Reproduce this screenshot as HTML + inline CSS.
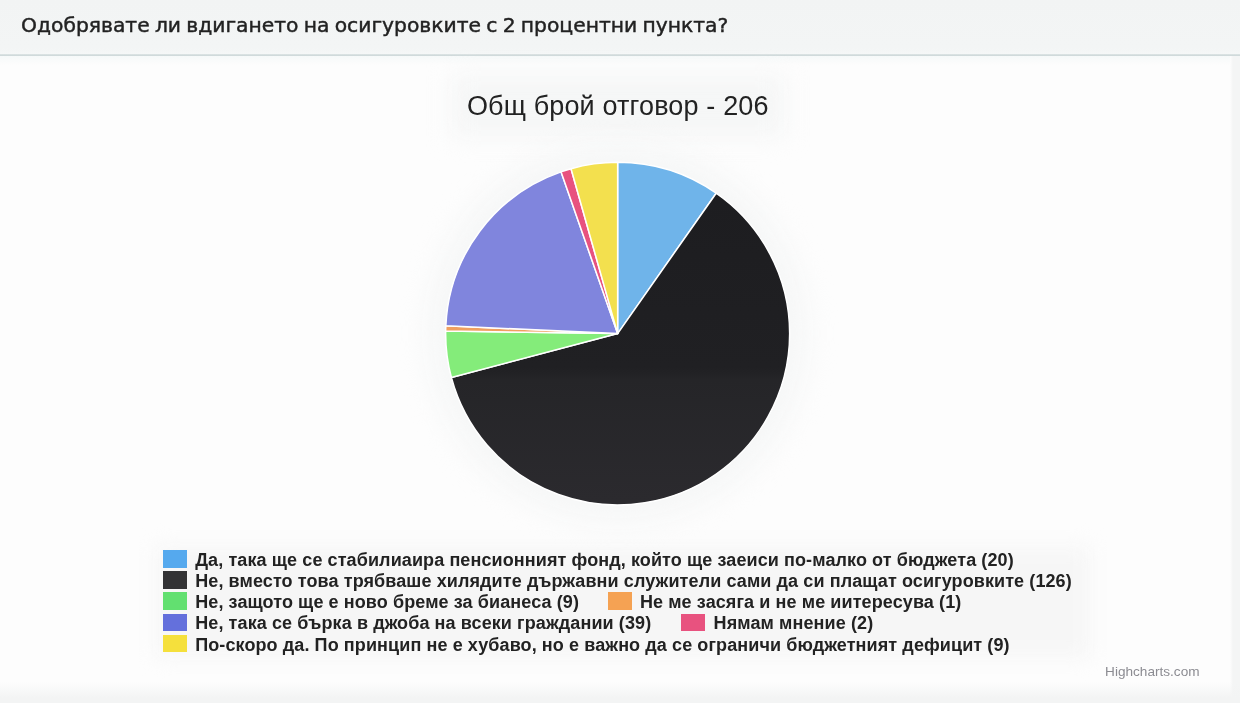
<!DOCTYPE html>
<html lang="bg"><head><meta charset="utf-8"><title>Анкета</title>
<style>
html,body{margin:0;padding:0;}
body{width:1240px;height:703px;overflow:hidden;background:#fdfdfd;position:relative;font-family:"Liberation Sans",sans-serif;}
.hdr{position:absolute;left:0;top:0;width:1240px;height:66px;background:linear-gradient(to bottom,#f2f4f4 0,#f3f5f5 48px,#f5f7f7 54.2px,#d0dadb 54.6px,#d0dadb 55.6px,#f6f9f9 56.1px,#fdfdfd 65px);}
.rband{position:absolute;left:1230px;top:56px;width:10px;height:647px;background:linear-gradient(to right,#fdfdfd,#f4f5f5 3px);}
.bband{position:absolute;left:0;top:682px;width:1240px;height:21px;background:linear-gradient(to bottom,rgba(243,244,244,0),#f3f4f4 16px);}
.halo2{position:absolute;left:452px;top:76px;width:332px;height:60px;background:#f5f6f6;filter:blur(12px);}
.halo3{position:absolute;left:427px;top:143px;width:381px;height:381px;border-radius:50%;background:#f6f7f7;filter:blur(13px);}
.halo{position:absolute;left:156px;top:547px;width:934px;height:110px;background:#f6f6f6;filter:blur(10px);}
.hdr span{position:absolute;left:21px;top:9.9px;font-family:"DejaVu Sans","Liberation Sans",sans-serif;font-size:20.3px;word-spacing:-1.2px;color:#222;white-space:nowrap;line-height:30px;-webkit-text-stroke:0.45px #222;}
.title{position:absolute;left:466.9px;top:89px;font-size:27px;letter-spacing:0.15px;line-height:34px;color:#222;white-space:nowrap;}
svg.pie{position:absolute;left:0;top:0;}
svg.pie path{stroke:#fff;stroke-width:1.5;stroke-linejoin:round;}
.lg{position:absolute;font-weight:bold;font-size:18px;letter-spacing:0.1px;line-height:21px;color:#222;white-space:nowrap;}
.sw{position:absolute;width:24px;height:17.8px;}
.credit{position:absolute;left:1105.1px;top:663.6px;font-size:13.6px;line-height:16px;color:#8c8c92;white-space:nowrap;}
</style></head><body>
<div class="hdr"><span>Одобрявате ли вдигането на осигуровките с 2 процентни пункта?</span></div>
<div class="rband"></div><div class="bband"></div><div class="halo"></div><div class="halo2"></div><div class="halo3"></div>
<div class="title">Общ брой отговор - 206</div>
<svg class="pie" width="1240" height="703" viewBox="0 0 1240 703">
<defs><linearGradient id="dk" gradientUnits="userSpaceOnUse" x1="0" y1="200" x2="0" y2="500"><stop offset="0" stop-color="#1d1d20"/><stop offset="0.56" stop-color="#202023"/><stop offset="0.6" stop-color="#252528"/><stop offset="1" stop-color="#2b2a2e"/></linearGradient></defs>
<path d="M617.65 333.6 L617.65 162.30 A172.0 171.3 0 0 1 716.19 193.20 Z" fill="#6fb4ea"/>
<path d="M617.65 333.6 L716.19 193.20 A172.0 171.3 0 1 1 451.40 377.51 Z" fill="url(#dk)"/>
<path d="M617.65 333.6 L451.40 377.51 A172.0 171.3 0 0 1 445.67 330.99 Z" fill="#84ec7a"/>
<path d="M617.65 333.6 L445.67 330.99 A172.0 171.3 0 0 1 445.83 325.77 Z" fill="#f0a060"/>
<path d="M617.65 333.6 L445.83 325.77 A172.0 171.3 0 0 1 561.02 171.85 Z" fill="#8085dd"/>
<path d="M617.65 333.6 L561.02 171.85 A172.0 171.3 0 0 1 571.03 168.71 Z" fill="#e8527f"/>
<path d="M617.65 333.6 L571.03 168.71 A172.0 171.3 0 0 1 617.65 162.30 Z" fill="#f3e04e"/>
</svg>
<div class="sw" style="left:163.1px;top:549.9px;background:#55a9ee"></div>
<div class="lg" style="left:195.2px;top:549.6px">Да, така ще се стабилиаира пенсионният фонд, който ще заеиси по-малко от бюджета (20)</div>
<div class="sw" style="left:163.1px;top:571.2px;background:#333335"></div>
<div class="lg" style="left:195.2px;top:570.6px">Не, вместо това трябваше хилядите държавни служители сами да си плащат осигуровките (126)</div>
<div class="sw" style="left:163.1px;top:592.4px;background:#62e070"></div>
<div class="lg" style="left:195.2px;top:591.6px">Не, защото ще е ново бреме за бианеса (9)</div>
<div class="sw" style="left:608.1px;top:592.4px;background:#f5a253"></div>
<div class="lg" style="left:639.9px;top:591.6px">Не ме засяга и не ме иитересува (1)</div>
<div class="sw" style="left:163.1px;top:613.5px;background:#6470dc"></div>
<div class="lg" style="left:195.2px;top:612.6px">Не, така се бърка в джоба на всеки граждании (39)</div>
<div class="sw" style="left:680.8px;top:613.5px;background:#e8527f"></div>
<div class="lg" style="left:713.6px;top:612.6px">Нямам мнение (2)</div>
<div class="sw" style="left:163.1px;top:634.7px;background:#f5e03c"></div>
<div class="lg" style="left:195.2px;top:634.6px">По-скоро да. По принцип не е хубаво, но е важно да се ограничи бюджетният дефицит (9)</div>
<div class="credit">Highcharts.com</div>
</body></html>
